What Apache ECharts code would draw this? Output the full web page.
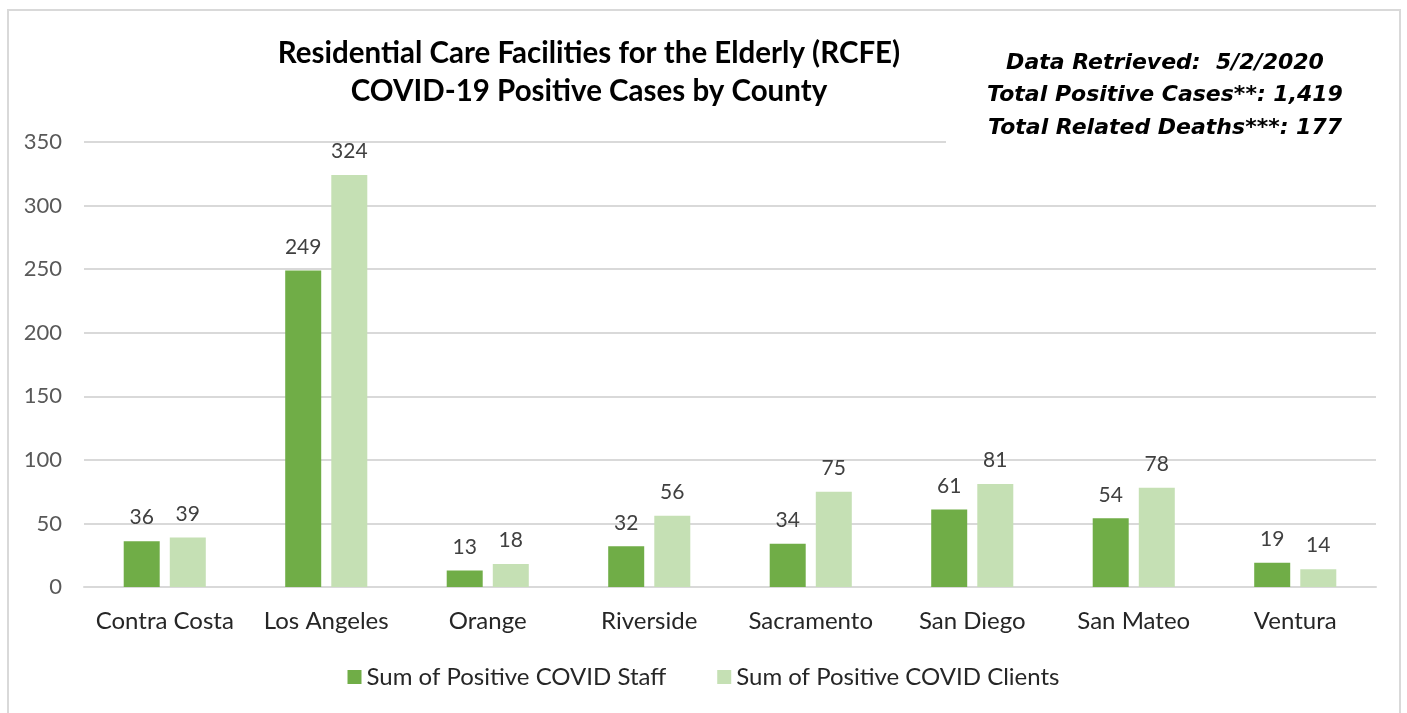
<!DOCTYPE html>
<html><head><meta charset="utf-8">
<script src="https://cdn.jsdelivr.net/npm/echarts@6/dist/echarts.min.js"></script>
<style>html,body{margin:0;padding:0;background:#fff}#c{width:1407px;height:713px}</style>
</head><body><div id="c"></div>
<script>
const counties = ['Contra Costa','Los Angeles','Orange','Riverside','Sacramento','San Diego','San Mateo','Ventura'];
const staff = [36,249,13,32,34,61,54,19];
const clients = [39,324,18,56,75,81,78,14];
const seriesNames = ['Sum of Positive COVID Staff','Sum of Positive COVID Clients'];
const titleLines = ['Residential Care Facilities for the Elderly (RCFE)','COVID-19 Positive Cases by County'];
const noteLines = ['Data Retrieved:  5/2/2020','Total Positive Cases**: 1,419','Total Related Deaths***: 177'];

const FF = 'Lato';
const chart = echarts.init(document.getElementById('c'));
const lbl = {show:true,position:'top',distance:13,color:'#404040',fontSize:21,fontFamily:FF};
chart.setOption({
  animation:false,
  backgroundColor:'#fff',
  grid:{left:84,right:31,top:142,bottom:126},
  legend:{
    bottom:19,left:'center',itemWidth:14,itemHeight:14,itemGap:51,itemTextGap:7,
    icon:'rect',
    textStyle:{fontSize:24,color:'#262626',fontFamily:FF},
    data:seriesNames
  },
  xAxis:{
    type:'category',data:counties,
    axisLine:{lineStyle:{color:'#d9d9d9',width:2}},
    axisTick:{show:false},
    axisLabel:{interval:0,fontSize:24,color:'#262626',margin:22,fontFamily:FF}
  },
  yAxis:{
    type:'value',min:0,max:350,interval:50,
    axisLine:{show:false},axisTick:{show:false},
    splitLine:{lineStyle:{color:'#d9d9d9',width:2}},
    axisLabel:{fontSize:22,color:'#595959',margin:22,fontFamily:FF}
  },
  series:[
    {name:seriesNames[0],type:'bar',data:staff,barWidth:36,barGap:'28%',itemStyle:{color:'#70AD47'},label:lbl},
    {name:seriesNames[1],type:'bar',data:clients,barWidth:36,itemStyle:{color:'#C5E0B4'},label:lbl}
  ],
  graphic:[
    {type:'rect',z:100,silent:true,shape:{x:946,y:30,width:448,height:120},style:{fill:'#fff'}},
    {type:'rect',z:101,silent:true,shape:{x:8,y:10,width:1392,height:720},style:{fill:'none',stroke:'#d9d9d9',lineWidth:2}},
    {type:'text',z:102,x:589,y:34,style:{text:titleLines.join('\n'),fill:'#000',font:'bold 29.5px Lato',align:'center',lineHeight:38}},
    {type:'text',z:102,x:1165,y:47,style:{text:noteLines.join('\n'),fill:'#000',font:'italic bold 22px "DejaVu Sans"',align:'center',lineHeight:32.5}}
  ]
});
</script></body></html>
